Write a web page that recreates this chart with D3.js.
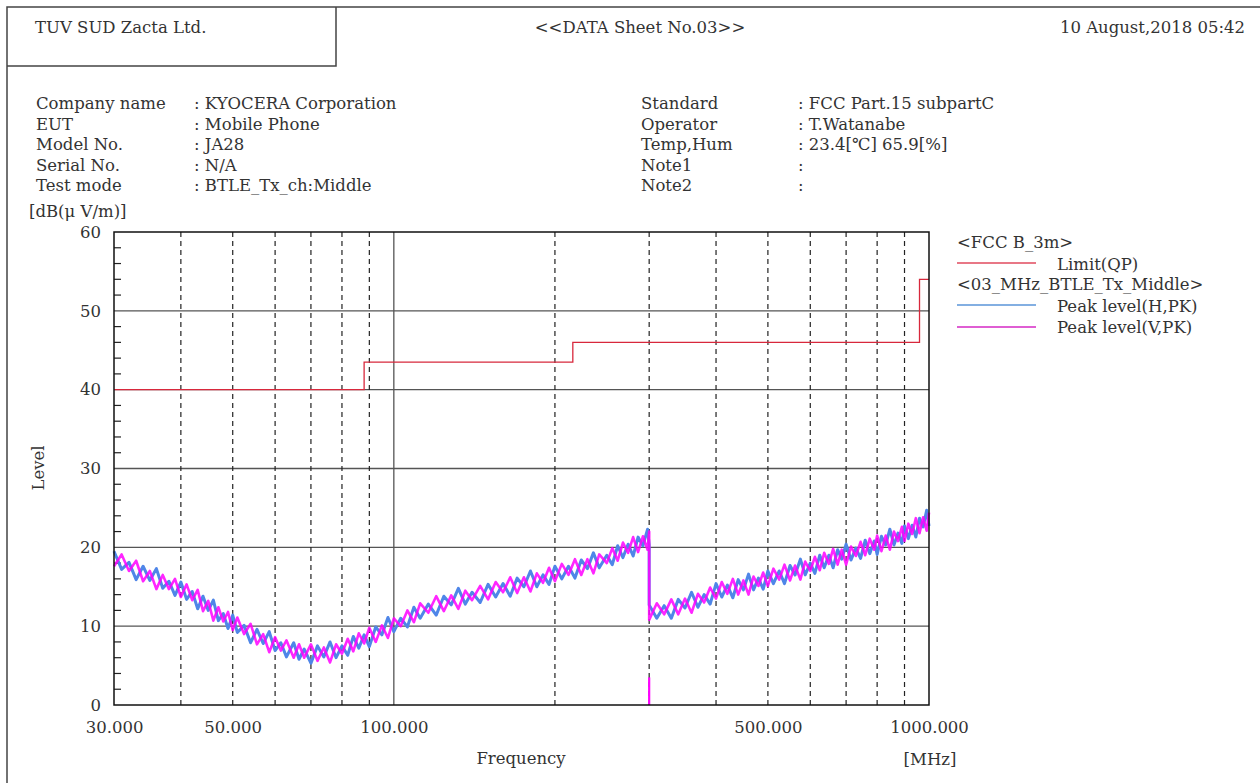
<!DOCTYPE html>
<html>
<head>
<meta charset="utf-8">
<script src="https://cdn.jsdelivr.net/npm/d3@7"></script>
<style>
  body { margin: 0; background: #fff; }
  svg text { font-family: "DejaVu Serif", "Liberation Serif", serif; fill: #333; }
</style>
</head>
<body>
<div id="sheet"></div>
<script>
// frequency points [MHz], 30-300 MHz band and 300-1000 MHz band
var freqLow = [30,31,32,33,34,35,36,37,38,39,40,41,42,43,44,45,46,47,48,49,50,51,52.5,54,55.5,57,58.5,60,
  61.5,63,65,66.5,68,70,72,74,76,78,80,82,84,86,88,90,92.5,95,97.5,100,103,106,109,112,116,120,
  124,128,132,136,140,145,150,155,160,165,170,175,180,185,190,195,200,206,212,218,224,230,236,242,250,
  256,262,268,274,280,286,292,298,300];
var freqHigh = [300,310,320,330,340,350,360,370,380,390,400,410,420,430,440,450,460,470,480,490,500,
  512,525,537,550,562,575,587,600,612,625,637,650,662,675,687,700,715,730,745,760,775,790,800,
  815,830,845,860,875,890,900,915,930,945,960,975,990,1000];

// Peak level (H,PK) [dB(uV/m)]
var peakHLow = [19.5,17.2,18.1,15.9,17.6,15.8,17.3,14.8,15.7,13.9,15.6,13.4,14.4,12.2,13.8,12.0,13.3,10.7,11.6,9.7,11.4,
  9.2,10.1,7.9,9.6,7.8,9.3,6.9,7.9,6.1,7.9,5.8,7.1,5.3,7.5,6.1,8.0,6.0,7.5,6.3,8.7,7.2,8.9,7.4,9.9,8.9,11.1,9.3,
  11.0,9.9,12.4,11.0,12.8,11.4,13.8,12.7,14.8,12.8,14.3,13.0,15.3,13.7,15.4,13.8,16.1,15.0,17.0,15.0,16.5,15.3,17.6,
  16.0,17.6,16.1,18.4,17.3,19.3,17.4,19.0,17.8,20.2,18.7,20.4,18.9,21.3,20.2,22.3,20.3];
var peakHHigh = [12.7,11.0,12.6,11.0,13.4,12.3,14.3,12.4,14.0,12.8,15.4,13.7,15.2,13.6,15.9,14.6,16.6,14.6,16.1,14.7,17.0,
  15.4,17.0,15.4,17.7,16.5,18.5,16.5,18.0,16.7,19.0,17.4,19.0,17.4,19.7,18.5,20.4,18.4,19.9,18.6,20.9,19.2,20.8,19.1,
  21.4,20.3,22.3,20.3,21.8,20.5,22.7,21.1,22.8,21.3,23.7,22.6,24.7,22.7];

// Peak level (V,PK) [dB(uV/m)]
var peakVLow = [17.6,19.1,17.0,18.3,15.7,17.0,14.7,16.5,14.7,16.0,13.7,15.3,13.3,14.6,11.9,13.2,10.7,12.4,10.6,11.8,9.5,
  11.1,9.0,10.3,7.7,9.0,6.7,8.6,6.9,8.2,6.0,7.7,6.0,7.7,5.6,7.3,5.4,7.7,6.5,8.4,6.8,9.1,7.8,9.8,8.0,10.1,8.5,11.0,
  10.0,12.0,10.5,12.9,11.7,13.8,11.9,13.9,12.2,14.5,13.3,15.1,13.4,15.6,14.3,16.2,14.2,16.2,14.4,16.7,15.5,17.4,15.7,
  17.9,16.5,18.5,16.5,18.5,16.7,19.1,18.0,19.9,18.3,20.6,19.3,21.3,19.4,21.4,19.7,22.0];
var peakVHigh = [10.8,12.9,11.5,13.4,11.5,13.5,11.7,14.1,13.0,14.9,13.5,15.6,14.1,16.0,14.0,15.8,14.0,16.3,15.1,16.8,15.1,
  17.3,15.9,17.8,15.8,17.7,15.9,18.2,17.0,18.8,17.1,19.3,17.9,19.8,17.8,19.7,17.8,20.1,18.9,20.7,19.0,21.1,19.7,21.5,
  19.5,21.5,19.7,22.0,20.8,22.6,20.8,23.0,21.7,23.7,21.8,23.8,22.1,24.4];
// short drop-out of the V trace at the 300 MHz band edge
var dipFreq = 300;
var dipLevel = [0, 3.5];

// FCC B_3m limit (QP), step breakpoints
var limitFreq = [30, 88, 216, 960, 1000];
var limitLevel = [40, 43.5, 46, 54, 54];

// grid / ticks
var yMajor = [0, 10, 20, 30, 40, 50, 60];
var xDashed = [40, 50, 60, 70, 80, 90, 200, 300, 400, 500, 600, 700, 800, 900];
var xSolid = [100];
var xLabels = [30, 50, 100, 500, 1000];

var infoLeft = [["Company name", ": KYOCERA Corporation"], ["EUT", ": Mobile Phone"], ["Model No.", ": JA28"],
  ["Serial No.", ": N/A"], ["Test mode", ": BTLE_Tx_ch:Middle"]];
var infoRight = [["Standard", ": FCC Part.15 subpartC"], ["Operator", ": T.Watanabe"], ["Temp,Hum", ": 23.4[\u2103] 65.9[%]"],
  ["Note1", ":"], ["Note2", ":"]];

var margin = {top: 232, left: 114};
var width = 815, height = 473;

var svg = d3.select("#sheet").append("svg")
    .attr("width", 1260)
    .attr("height", 783);

// page frame and header box
svg.append("path")
    .attr("d", "M7,783 V7 H1260 M7,66 H336 V7")
    .style("fill", "none").style("stroke", "#444").style("stroke-width", 1.5);

svg.append("text").attr("x", 35).attr("y", 33).style("font-size", "16.5px").text("TUV SUD Zacta Ltd.");
svg.append("text").attr("x", 640).attr("y", 33).attr("text-anchor", "middle").style("font-size", "16.5px")
    .text("<<DATA Sheet No.03>>");
svg.append("text").attr("x", 1245).attr("y", 33).attr("text-anchor", "end").style("font-size", "16.5px")
    .text("10 August,2018 05:42");

var rowY = [109, 130, 150, 171, 191];
infoLeft.forEach(function(r, i) {
    svg.append("text").attr("x", 36).attr("y", rowY[i]).style("font-size", "16.5px").text(r[0]);
    svg.append("text").attr("x", 194).attr("y", rowY[i]).style("font-size", "16.5px").text(r[1]);
});
infoRight.forEach(function(r, i) {
    svg.append("text").attr("x", 641).attr("y", rowY[i]).style("font-size", "16.5px").text(r[0]);
    svg.append("text").attr("x", 798).attr("y", rowY[i]).style("font-size", "16.5px").text(r[1]);
});

svg.append("text").attr("x", 29).attr("y", 217).style("font-size", "16.5px").text("[dB(\u03bc V/m)]");

var g = svg.append("g").attr("transform", "translate(" + margin.left + "," + margin.top + ")");

var x = d3.scaleLog().domain([30, 1000]).range([0, width]);
var y = d3.scaleLinear().domain([0, 60]).range([height, 0]);

// horizontal grid
g.selectAll(".hgrid").data(yMajor.slice(1, -1)).enter().append("line")
    .attr("x1", 0).attr("x2", width)
    .attr("y1", function(d) { return y(d); }).attr("y2", function(d) { return y(d); })
    .style("stroke", "#555").style("stroke-width", 1.3);

// vertical grid
g.selectAll(".vdash").data(xDashed).enter().append("line")
    .attr("x1", function(d) { return x(d); }).attr("x2", function(d) { return x(d); })
    .attr("y1", 0).attr("y2", height)
    .style("stroke", "#222").style("stroke-width", 1.2).style("stroke-dasharray", "5,4");
g.selectAll(".vsolid").data(xSolid).enter().append("line")
    .attr("x1", function(d) { return x(d); }).attr("x2", function(d) { return x(d); })
    .attr("y1", 0).attr("y2", height)
    .style("stroke", "#555").style("stroke-width", 1.3);

// minor ticks on the left edge (every 2 dB)
var yMinor = d3.range(0, 61, 2).filter(function(d) { return d % 10 !== 0; });
g.selectAll(".minor").data(yMinor).enter().append("line")
    .attr("x1", 0).attr("x2", 7)
    .attr("y1", function(d) { return y(d); }).attr("y2", function(d) { return y(d); })
    .style("stroke", "#222").style("stroke-width", 1.2);

// traces
var line = d3.line()
    .x(function(d) { return x(d[0]); })
    .y(function(d) { return y(d[1]); });

var hPts = freqLow.map(function(f, i) { return [f, peakHLow[i]]; })
    .concat(freqHigh.map(function(f, i) { return [f, peakHHigh[i]]; }));
var vPts = freqLow.map(function(f, i) { return [f, peakVLow[i]]; })
    .concat(freqHigh.map(function(f, i) { return [f, peakVHigh[i]]; }));

g.append("path").attr("d", line(hPts))
    .style("fill", "none").style("stroke", "#4f86e8").style("stroke-width", 3).style("stroke-linejoin", "round");
g.append("path").attr("d", line(vPts))
    .style("fill", "none").style("stroke", "#ff00ff").style("stroke-width", 2.6).style("stroke-opacity", 0.85)
    .style("stroke-linejoin", "round");
g.append("path").attr("d", line(dipLevel.map(function(v) { return [dipFreq, v]; })))
    .style("fill", "none").style("stroke", "#ff00ff").style("stroke-width", 2.2);

// limit line
var limitPts = limitFreq.map(function(f, i) { return [f, limitLevel[i]]; });
g.append("path").attr("d", line.curve(d3.curveStepAfter)(limitPts))
    .style("fill", "none").style("stroke", "#d8283c").style("stroke-width", 1.3);
line.curve(d3.curveLinear);

// frame
g.append("rect").attr("width", width).attr("height", height)
    .style("fill", "none").style("stroke", "#111").style("stroke-width", 1.5);

// axes labels
var yAxis = d3.axisLeft(y).tickValues(yMajor).tickSize(0).tickPadding(13).tickFormat(d3.format("d"));
var ya = g.append("g").attr("class", "y axis").call(yAxis);
ya.select(".domain").remove();
ya.selectAll("text").style("font-size", "16.5px").style("font-family", "DejaVu Serif").attr("fill", "#333");

var xAxis = d3.axisBottom(x).tickValues(xLabels).tickSize(0).tickPadding(16).tickFormat(d3.format(".3f"));
var xa = g.append("g").attr("class", "x axis").attr("transform", "translate(0," + height + ")").call(xAxis);
xa.select(".domain").remove();
xa.selectAll("text").style("font-size", "16.5px").style("font-family", "DejaVu Serif").attr("fill", "#333");

svg.append("text").attr("x", 521).attr("y", 764).attr("text-anchor", "middle").style("font-size", "16.5px").text("Frequency");
svg.append("text").attr("x", 930).attr("y", 765).attr("text-anchor", "middle").style("font-size", "16.5px").text("[MHz]");
svg.append("text").attr("transform", "translate(44,468) rotate(-90)").attr("text-anchor", "middle")
    .style("font-size", "16.5px").text("Level");

// legend
var lg = svg.append("g");
lg.append("text").attr("x", 957).attr("y", 248).style("font-size", "16.5px").text("<FCC B_3m>");
lg.append("line").attr("x1", 957).attr("x2", 1036).attr("y1", 263).attr("y2", 263).style("stroke", "#e04a5e").style("stroke-width", 1.3);
lg.append("text").attr("x", 1057).attr("y", 270).style("font-size", "16.5px").text("Limit(QP)");
lg.append("text").attr("x", 957).attr("y", 290).style("font-size", "16.5px").text("<03_MHz_BTLE_Tx_Middle>");
lg.append("line").attr("x1", 957).attr("x2", 1036).attr("y1", 305).attr("y2", 305).style("stroke", "#5a95d8").style("stroke-width", 1.3);
lg.append("text").attr("x", 1057).attr("y", 312).style("font-size", "16.5px").text("Peak level(H,PK)");
lg.append("line").attr("x1", 957).attr("x2", 1036).attr("y1", 327).attr("y2", 327).style("stroke", "#d428c4").style("stroke-width", 1.3);
lg.append("text").attr("x", 1057).attr("y", 333).style("font-size", "16.5px").text("Peak level(V,PK)");
</script>
</body>
</html>
